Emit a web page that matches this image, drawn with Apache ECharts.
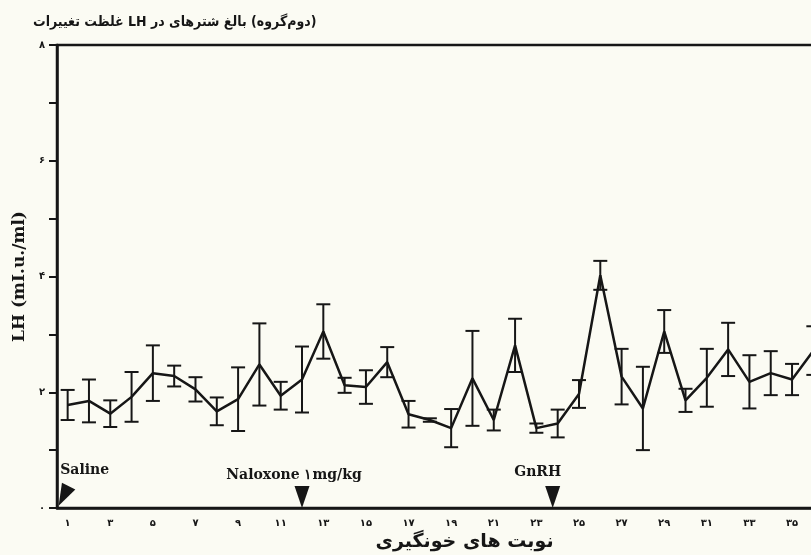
<!DOCTYPE html>
<html>
<head>
<meta charset="utf-8">
<script src="https://cdn.jsdelivr.net/npm/echarts@6/dist/echarts.min.js"></script>
<style>
  html, body { margin: 0; padding: 0; background: #fbfbf3; }
  #container { width: 811px; height: 555px; }
</style>
</head>
<body>
<div id="container"></div>
<script>
// نوبت های خونگیری (sample number)
var sampleLabels = ['۱','۲','۳','۴','۵','۶','۷','۸','۹','۱۰','۱۱','۱۲','۱۳','۱۴','۱۵','۱۶','۱۷','۱۸',
  '۱۹','۲۰','۲۱','۲۲','۲۳','۲۴','۲۵','۲۶','۲۷','۲۸','۲۹','۳۰','۳۱','۳۲','۳۳','۳۴','۳۵','۳۶'];
// LH mean (mI.u./ml)
var lhMean = [1.78, 1.85, 1.63, 1.92, 2.33, 2.28, 2.05, 1.67, 1.88, 2.48, 1.94, 2.22,
  3.05, 2.12, 2.09, 2.52, 1.62, 1.52, 1.38, 2.24, 1.52, 2.81, 1.38, 1.46,
  1.97, 4.02, 2.27, 1.72, 3.05, 1.86, 2.25, 2.74, 2.18, 2.33, 2.22, 2.72];
// standard error
var lhErr = [0.26, 0.37, 0.23, 0.43, 0.48, 0.18, 0.21, 0.24, 0.55, 0.71, 0.24, 0.57,
  0.47, 0.13, 0.29, 0.26, 0.23, 0.03, 0.33, 0.82, 0.18, 0.46, 0.08, 0.24,
  0.24, 0.25, 0.48, 0.72, 0.37, 0.2, 0.5, 0.46, 0.46, 0.38, 0.27, 0.42];
var yTickLabels = ['۰', '', '۲', '', '۴', '', '۶', '', '۸'];
// injections (sample index, text)
var injections = [
  { sample: 1, text: 'Saline' },
  { sample: 12, text: 'Naloxone ۱mg/kg' },
  { sample: 24, text: 'GnRH' }
];

var ink = '#161616';
var LRM = '\u200E';
var myChart = echarts.init(document.getElementById('container'));

var errData = lhMean.map(function (m, i) { return [i, m, lhErr[i]]; });

var injStyle = {
  'Saline': { rotate: 153, offset: [-4, -12], labelOffset: [21, 1] },
  'Naloxone ۱mg/kg': { rotate: 180, offset: [0, -11], labelOffset: [-8, 2] },
  'GnRH': { rotate: 180, offset: [-5, -11], labelOffset: [-15, -1] }
};
var injData = injections.map(function (d) {
  var s = injStyle[d.text];
  return {
    value: [d.sample - 1, 0],
    name: d.text,
    symbolRotate: s.rotate,
    symbolOffset: s.offset,
    label: { offset: s.labelOffset }
  };
});

// title words are printed left to right in the figure
function ltrWords(words) { return LRM + words.join(LRM + ' '); }

myChart.setOption({
  backgroundColor: '#fbfbf3',
  animation: false,
  title: {
    text: ltrWords(['تغییرات', 'غلظت', 'LH', 'در', 'شترهای', 'بالغ', '(گروه' + LRM + 'دوم)']),
    left: 28,
    top: 10,
    textStyle: { fontFamily: 'DejaVu Sans Condensed', fontWeight: 'bold', fontSize: 14, color: ink }
  },
  grid: {
    left: 57, top: 45, bottom: 47, right: -13,
    outerBoundsMode: 'none',
    show: true, borderColor: ink, borderWidth: 2.5, backgroundColor: 'transparent'
  },
  xAxis: {
    type: 'category',
    data: sampleLabels,
    boundaryGap: true,
    axisLine: { lineStyle: { color: ink, width: 2.5 } },
    axisTick: { alignWithLabel: true, interval: 0, length: 6, lineStyle: { color: ink, width: 2 } },
    axisLabel: { interval: 1, color: ink, fontFamily: 'DejaVu Sans', fontWeight: 'bold', fontSize: 10, margin: 10 },
    name: 'نوبت های خونگیری',
    nameLocation: 'middle',
    nameGap: 25,
    nameTextStyle: { fontFamily: 'DejaVu Sans', fontWeight: 'bold', fontSize: 19, color: ink, padding: [0, 0, 0, 48] }
  },
  yAxis: {
    type: 'value',
    min: 0, max: 8, interval: 1,
    splitLine: { show: false },
    axisLine: { show: true, lineStyle: { color: ink, width: 2.5 } },
    axisTick: { show: true, length: 8, lineStyle: { color: ink, width: 2 } },
    axisLabel: {
      color: ink, fontFamily: 'DejaVu Sans', fontWeight: 'bold', fontSize: 10, margin: 12,
      formatter: function (v) { return yTickLabels[Math.round(v)] || ''; }
    },
    name: 'LH (mI.u./ml)',
    nameLocation: 'middle',
    nameRotate: 90,
    nameGap: 28,
    nameTextStyle: { fontFamily: 'DejaVu Serif', fontWeight: 'bold', fontSize: 17, color: ink }
  },
  series: [
    {
      type: 'custom',
      data: errData,
      z: 3,
      renderItem: function (params, api) {
        var i = api.value(0), m = api.value(1), e = api.value(2);
        var top = api.coord([i, m + e]);
        var bot = api.coord([i, m - e]);
        var w = 7;
        var st = { stroke: ink, lineWidth: 2 };
        return {
          type: 'group',
          children: [
            { type: 'line', shape: { x1: top[0], y1: top[1], x2: bot[0], y2: bot[1] }, style: st },
            { type: 'line', shape: { x1: top[0] - w, y1: top[1], x2: top[0] + w, y2: top[1] }, style: st },
            { type: 'line', shape: { x1: bot[0] - w, y1: bot[1], x2: bot[0] + w, y2: bot[1] }, style: st }
          ]
        };
      }
    },
    {
      type: 'line',
      data: lhMean,
      symbol: 'none',
      z: 4,
      lineStyle: { color: ink, width: 2.5 }
    },
    {
      type: 'scatter',
      data: injData,
      symbol: 'triangle',
      symbolSize: [15, 22],
      z: 5,
      itemStyle: { color: ink, opacity: 1 },
      label: {
        show: true,
        position: 'top',
        distance: 6,
        formatter: '{b}',
        color: ink,
        fontFamily: 'DejaVu Serif',
        fontWeight: 'bold',
        fontSize: 14
      }
    }
  ]
});
</script>
</body>
</html>
